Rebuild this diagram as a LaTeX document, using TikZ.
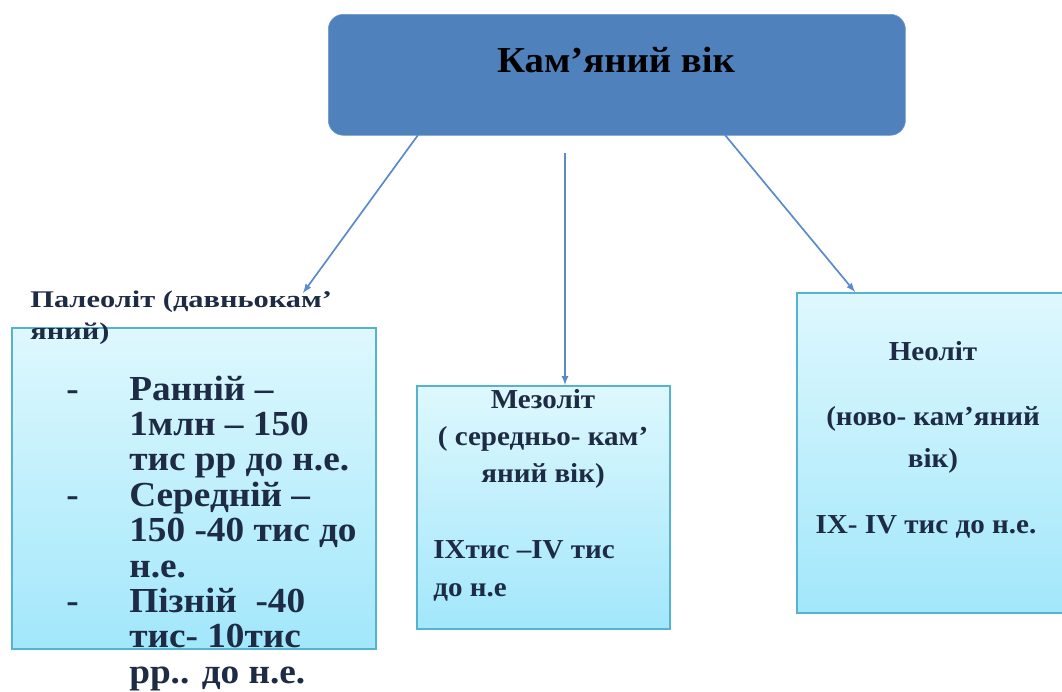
\documentclass[tikz,border=0pt]{standalone}
\usepackage{fontspec}
\setmainfont{Liberation Serif}
\usetikzlibrary{positioning}
\definecolor{headblue}{HTML}{4F81BD}
\definecolor{headedge}{HTML}{7399C9}
\definecolor{linkblue}{HTML}{5A8ACB}
\definecolor{celltop}{HTML}{DEF8FD}
\definecolor{cellbot}{HTML}{A2E7FB}
\definecolor{celledge}{HTML}{55B3D0}
\definecolor{ink}{HTML}{1D2B44}
\tikzset{head/.style={draw=headedge, fill=headblue, rounded corners=0.38cm, anchor=north west, inner sep=0pt, minimum width=14.425cm, minimum height=3.025cm}}
\tikzset{period/.style={draw=celledge, line width=1.1pt, top color=celltop, bottom color=cellbot, anchor=north west, inner sep=0pt}}
\tikzset{link/.style={->, >=latex, draw=linkblue, line width=1.2pt}}
\tikzset{txt/.style={inner sep=0pt, text=ink, font=\bfseries, xscale=1.06, transform shape}}
\tikzset{titletxt/.style={txt, text=black, font=\bfseries\fontsize{26}{30}\selectfont}}
\tikzset{labeltxt/.style={txt, xscale=1.2, font=\bfseries\fontsize{17}{20}\selectfont}}
\tikzset{listtxt/.style={txt, font=\bfseries\fontsize{25}{28}\selectfont}}
\tikzset{celltxt/.style={txt, font=\bfseries\fontsize{19.5}{23}\selectfont}}

\begin{document}
\begin{tikzpicture}[x=0.025cm, y=-0.025cm]
  \clip (0,0) rectangle (1062,691);

  \node[head] (kam) at (328,14) {};
  \node[titletxt, anchor=base] (kamtxt) at (616,72) {Кам’яний вік};

  \node[period, minimum width=9.1cm, minimum height=8.025cm] (paleo) at (11,327) {};
  \node[period, minimum width=6.325cm, minimum height=6.075cm] (mezo) at (416,385) {};
  \node[period, minimum width=6.8cm, minimum height=8cm] (neo) at (796,292) {};

  % paleolit
  \node[labeltxt, anchor=base west] (paleo1) at (30,307) {Палеоліт (давньокам’};
  \node[labeltxt, anchor=base west] (paleo2) at (30,339) {яний)};
  \foreach \t [count=\i] in {{Ранній –},{1млн – 150},{тис рр до н.е.},{Середній –},{150 -40 тис до},{н.е.},{Пізній\ \ -40},{тис- 10тис},{рр.. до н.е.}}
    \node[listtxt, anchor=base west] (pl\i) at (129,{400+35.4*(\i-1)}) {\t};
  \foreach \i in {1,4,7}
    \node[listtxt, anchor=base west] (dash\i) at (66,{400+35.4*(\i-1)}) {-};

  % mezolit
  \node[celltxt, anchor=base] (mz1) at (543,408) {Мезоліт};
  \node[celltxt, anchor=base] (mz2) at (543,445) {( середньо- кам’};
  \node[celltxt, anchor=base] (mz3) at (543,482) {яний вік)};
  \node[celltxt, anchor=base west] (mz4) at (433,558) {IXтис –IV тис};
  \node[celltxt, anchor=base west] (mz5) at (433,596) {до н.е};

  % neolit
  \node[celltxt, anchor=base] (nl1) at (933,360) {Неоліт};
  \node[celltxt, anchor=base] (nl2) at (933,425) {(ново- кам’яний};
  \node[celltxt, anchor=base] (nl3) at (933,467) {вік)};
  \node[celltxt, anchor=base] (nl4) at (926,533) {IX- IV тис до н.е.};

  \coordinate (s1) at (418,135);
  \coordinate (e1) at (303,293);
  \coordinate (s2) at (565,153);
  \coordinate (s3) at (725,135);
  \coordinate (e3) at (855,292);
  \draw[link] (s1) -- (e1);
  \draw[link] (s2) -- (s2 |- mezo.north);
  \draw[link] (s3) -- (e3);
\end{tikzpicture}
\end{document}
